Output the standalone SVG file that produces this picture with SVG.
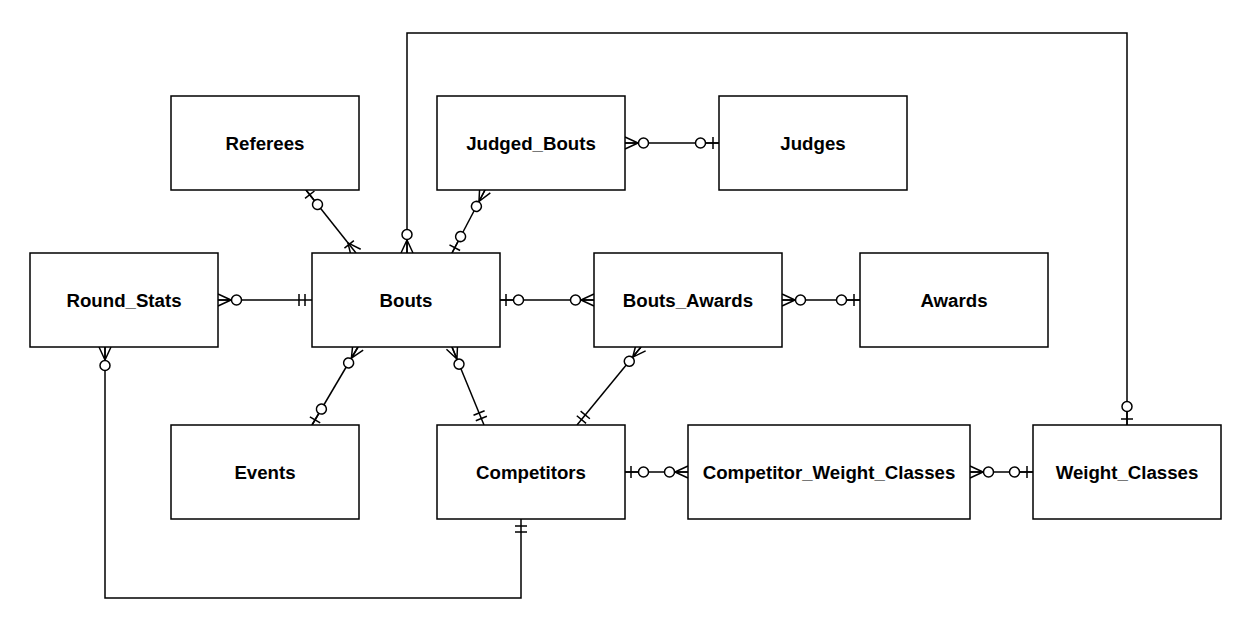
<svg xmlns="http://www.w3.org/2000/svg" width="1238" height="628" viewBox="0 0 1238 628">
<style>
.box{fill:#fff;stroke:#000;stroke-width:1.5}
.lbl{font-family:"Liberation Sans",Arial,sans-serif;font-weight:bold;font-size:18.67px;fill:#000;text-anchor:middle;dominant-baseline:central}
.c{fill:none;stroke:#000;stroke-width:1.5}
.m{fill:none;stroke:#000;stroke-width:1.5}
.mc{fill:#fff;stroke:#000;stroke-width:1.5}
</style>
<defs>
<marker id="zm" viewBox="-30 -10 35 20" refX="0" refY="0" markerWidth="35" markerHeight="20" markerUnits="userSpaceOnUse" orient="auto-start-reverse" overflow="visible">
<path class="m" d="M-13,0 L0,-6 M-13,0 L0,6 M-13,0 L0,0"/>
<circle class="mc" cx="-18.5" cy="0" r="5"/>
</marker>
<marker id="zo" viewBox="-30 -10 35 20" refX="0" refY="0" markerWidth="35" markerHeight="20" markerUnits="userSpaceOnUse" orient="auto-start-reverse" overflow="visible">
<path class="m" d="M-6,-6 L-6,6 M-13,0 L0,0"/>
<circle class="mc" cx="-18.5" cy="0" r="5"/>
</marker>
<marker id="oo" viewBox="-30 -10 35 20" refX="0" refY="0" markerWidth="35" markerHeight="20" markerUnits="userSpaceOnUse" orient="auto-start-reverse" overflow="visible">
<path class="m" d="M-7,-6 L-7,6 M-13,-6 L-13,6"/>
</marker>
<marker id="om" viewBox="-30 -10 35 20" refX="0" refY="0" markerWidth="35" markerHeight="20" markerUnits="userSpaceOnUse" orient="auto-start-reverse" overflow="visible">
<path class="m" d="M-13,0 L0,-6 M-13,0 L0,6 M-11,-6 L-11,6"/>
</marker>
</defs>
<rect width="1238" height="628" fill="#fff"/>
<g id="connectors">
<path class="c" d="M306,190 L356,253" marker-start="url(#zo)" marker-end="url(#om)"/>
<path class="c" d="M485,190 L452,253" marker-start="url(#zm)" marker-end="url(#zo)"/>
<path class="c" d="M407,253 L407,33 L1127,33 L1127,425" marker-start="url(#zm)" marker-end="url(#zo)"/>
<path class="c" d="M218,300 L312,300" marker-start="url(#zm)" marker-end="url(#oo)"/>
<path class="c" d="M500,300 L594,300" marker-start="url(#zo)" marker-end="url(#zm)"/>
<path class="c" d="M625,143 L719,143" marker-start="url(#zm)" marker-end="url(#zo)"/>
<path class="c" d="M782,300 L860,300" marker-start="url(#zm)" marker-end="url(#zo)"/>
<path class="c" d="M358,347 L312,425" marker-start="url(#zm)" marker-end="url(#zo)"/>
<path class="c" d="M452,347 L484,425" marker-start="url(#zm)" marker-end="url(#oo)"/>
<path class="c" d="M641,347 L577,425" marker-start="url(#zm)" marker-end="url(#oo)"/>
<path class="c" d="M625,472 L688,472" marker-start="url(#zo)" marker-end="url(#zm)"/>
<path class="c" d="M970,472 L1033,472" marker-start="url(#zm)" marker-end="url(#zo)"/>
<path class="c" d="M105,347 L105,598 L521,598 L521,519" marker-start="url(#zm)" marker-end="url(#oo)"/>
</g>
<g id="Referees"><rect class="box" x="171" y="96" width="188" height="94"/><text class="lbl" x="265" y="143">Referees</text></g>
<g id="Judged_Bouts"><rect class="box" x="437" y="96" width="188" height="94"/><text class="lbl" x="531" y="143">Judged_Bouts</text></g>
<g id="Judges"><rect class="box" x="719" y="96" width="188" height="94"/><text class="lbl" x="813" y="143">Judges</text></g>
<g id="Round_Stats"><rect class="box" x="30" y="253" width="188" height="94"/><text class="lbl" x="124" y="300">Round_Stats</text></g>
<g id="Bouts"><rect class="box" x="312" y="253" width="188" height="94"/><text class="lbl" x="406" y="300">Bouts</text></g>
<g id="Bouts_Awards"><rect class="box" x="594" y="253" width="188" height="94"/><text class="lbl" x="688" y="300">Bouts_Awards</text></g>
<g id="Awards"><rect class="box" x="860" y="253" width="188" height="94"/><text class="lbl" x="954" y="300">Awards</text></g>
<g id="Events"><rect class="box" x="171" y="425" width="188" height="94"/><text class="lbl" x="265" y="472">Events</text></g>
<g id="Competitors"><rect class="box" x="437" y="425" width="188" height="94"/><text class="lbl" x="531" y="472">Competitors</text></g>
<g id="Competitor_Weight_Classes"><rect class="box" x="688" y="425" width="282" height="94"/><text class="lbl" x="829" y="472">Competitor_Weight_Classes</text></g>
<g id="Weight_Classes"><rect class="box" x="1033" y="425" width="188" height="94"/><text class="lbl" x="1127" y="472">Weight_Classes</text></g>
</svg>
